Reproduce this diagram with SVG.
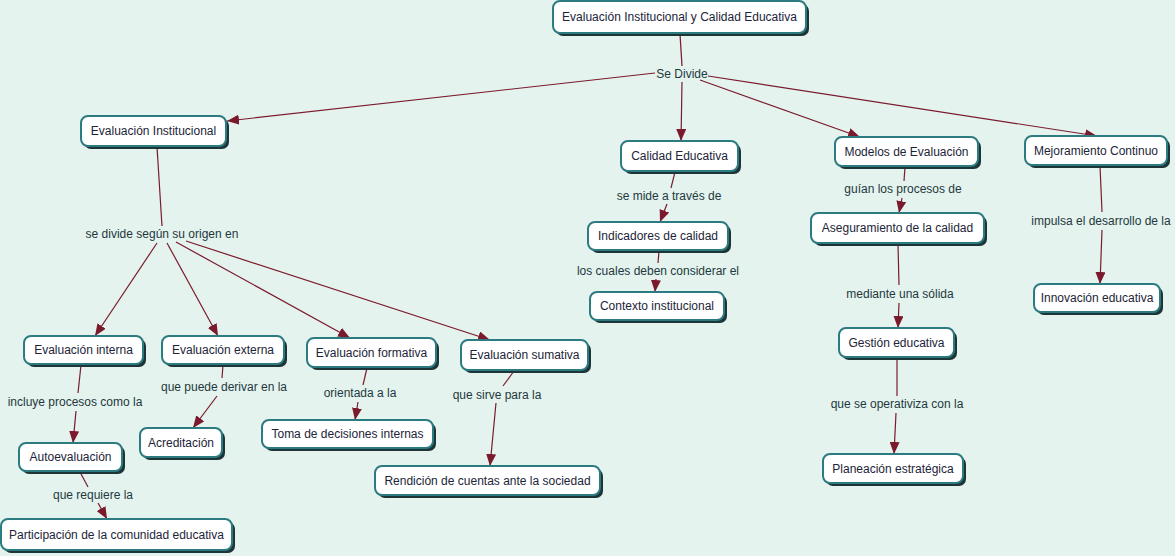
<svg xmlns="http://www.w3.org/2000/svg" width="1175" height="556" viewBox="0 0 1175 556">
<defs>
<marker id="arr" markerUnits="userSpaceOnUse" markerWidth="12" markerHeight="10" refX="12" refY="5" orient="auto">
<path d="M0,0 L12,5 L0,10 z" fill="#7a1a2c"/>
</marker>
<style>
.sh{fill:#1d3537}
.bx{fill:#ffffff;stroke:#2b7b80;stroke-width:2}
.t{font-family:"Liberation Sans",Arial,sans-serif;font-size:12px;fill:#1c2438;text-anchor:middle;dominant-baseline:central}
.lb{font-family:"Liberation Sans",Arial,sans-serif;font-size:12px;fill:#23383c;text-anchor:middle;dominant-baseline:central}
.c{stroke:#7a1a2c;stroke-width:1.2;fill:none}
.a{stroke:#7a1a2c;stroke-width:1.2;fill:none;marker-end:url(#arr)}
</style>
</defs>
<rect x="0" y="0" width="1175" height="556" fill="#e5f3ef"/>

<g id="connectors">
<line class="c" x1="680" y1="34" x2="682" y2="66"/>
<line class="a" x1="655" y1="73" x2="227" y2="121"/>
<line class="a" x1="682" y1="82" x2="681" y2="141"/>
<line class="a" x1="700" y1="80" x2="860" y2="137"/>
<line class="a" x1="708" y1="76" x2="1097" y2="136"/>
<line class="c" x1="157" y1="147" x2="162" y2="226"/>
<line class="a" x1="157" y1="243" x2="95" y2="336"/>
<line class="a" x1="167" y1="243" x2="218" y2="336"/>
<line class="a" x1="176" y1="242" x2="350" y2="338"/>
<line class="a" x1="186" y1="241" x2="490" y2="340"/>
<line class="c" x1="81" y1="365" x2="78" y2="393"/>
<line class="a" x1="76" y1="411" x2="73" y2="443"/>
<line class="c" x1="80" y1="472" x2="88" y2="487"/>
<line class="a" x1="98" y1="503" x2="107" y2="519"/>
<line class="c" x1="223" y1="365" x2="222" y2="378"/>
<line class="a" x1="217" y1="396" x2="193" y2="428"/>
<line class="c" x1="367" y1="368" x2="363" y2="385"/>
<line class="a" x1="358" y1="402" x2="355" y2="420"/>
<line class="c" x1="514" y1="371" x2="503" y2="386"/>
<line class="a" x1="496" y1="403" x2="490" y2="466"/>
<line class="c" x1="675" y1="172" x2="671" y2="188"/>
<line class="a" x1="667" y1="204" x2="660" y2="222"/>
<line class="c" x1="659" y1="251" x2="658" y2="263"/>
<line class="a" x1="656" y1="279" x2="655" y2="292"/>
<line class="c" x1="905" y1="167" x2="904" y2="181"/>
<line class="a" x1="902" y1="198" x2="899" y2="213"/>
<line class="c" x1="898" y1="244" x2="899" y2="285"/>
<line class="a" x1="899" y1="303" x2="898" y2="328"/>
<line class="c" x1="897" y1="358" x2="897" y2="396"/>
<line class="a" x1="896" y1="413" x2="894" y2="454"/>
<line class="c" x1="1100" y1="166" x2="1102" y2="212"/>
<line class="a" x1="1102" y1="230" x2="1100" y2="284"/>
</g>

<g id="labels">
<text class="lb" x="682" y="74">Se Divide</text>
<text class="lb" x="162" y="234">se divide según su origen en</text>
<text class="lb" x="75" y="402">incluye procesos como la</text>
<text class="lb" x="93" y="495">que requiere la</text>
<text class="lb" x="224" y="387">que puede derivar en la</text>
<text class="lb" x="360" y="393">orientada a la</text>
<text class="lb" x="497" y="395">que sirve para la</text>
<text class="lb" x="669" y="196">se mide a través de</text>
<text class="lb" x="658" y="271">los cuales deben considerar el</text>
<text class="lb" x="903" y="189">guían los procesos de</text>
<text class="lb" x="900" y="294">mediante una sólida</text>
<text class="lb" x="897" y="404">que se operativiza con la</text>
<text class="lb" x="1101" y="221">impulsa el desarrollo de la</text>
</g>

<g id="n-root"><rect class="sh" x="556" y="4" width="253" height="32" rx="7"/><rect class="bx" x="553" y="1" width="253" height="32" rx="7"/><text class="t" x="679.5" y="17">Evaluación Institucional y Calidad Educativa</text></g>
<g id="n-evinst"><rect class="sh" x="84" y="119" width="145" height="30" rx="7"/><rect class="bx" x="81" y="116" width="145" height="30" rx="7"/><text class="t" x="153.5" y="131">Evaluación Institucional</text></g>
<g id="n-calidad"><rect class="sh" x="624" y="144" width="117" height="30" rx="7"/><rect class="bx" x="621" y="141" width="117" height="30" rx="7"/><text class="t" x="679.5" y="156">Calidad Educativa</text></g>
<g id="n-modelos"><rect class="sh" x="838" y="140" width="143" height="29" rx="7"/><rect class="bx" x="835" y="137" width="143" height="29" rx="7"/><text class="t" x="906.5" y="151.5">Modelos de Evaluación</text></g>
<g id="n-mejora"><rect class="sh" x="1028" y="139" width="142" height="29" rx="7"/><rect class="bx" x="1025" y="136" width="142" height="29" rx="7"/><text class="t" x="1096" y="150.5">Mejoramiento Continuo</text></g>
<g id="n-indic"><rect class="sh" x="591" y="225" width="140" height="28" rx="7"/><rect class="bx" x="588" y="222" width="140" height="28" rx="7"/><text class="t" x="658" y="236">Indicadores de calidad</text></g>
<g id="n-contexto"><rect class="sh" x="593" y="295" width="134" height="28" rx="7"/><rect class="bx" x="590" y="292" width="134" height="28" rx="7"/><text class="t" x="657" y="306">Contexto institucional</text></g>
<g id="n-asegura"><rect class="sh" x="814" y="216" width="173" height="30" rx="7"/><rect class="bx" x="811" y="213" width="173" height="30" rx="7"/><text class="t" x="897.5" y="228">Aseguramiento de la calidad</text></g>
<g id="n-gestion"><rect class="sh" x="842" y="331" width="115" height="29" rx="7"/><rect class="bx" x="839" y="328" width="115" height="29" rx="7"/><text class="t" x="896.5" y="342.5">Gestión educativa</text></g>
<g id="n-planea"><rect class="sh" x="826" y="457" width="140" height="29" rx="7"/><rect class="bx" x="823" y="454" width="140" height="29" rx="7"/><text class="t" x="893" y="468.5">Planeación estratégica</text></g>
<g id="n-innova"><rect class="sh" x="1037" y="287" width="126" height="28" rx="7"/><rect class="bx" x="1034" y="284" width="126" height="28" rx="7"/><text class="t" x="1097" y="298">Innovación educativa</text></g>
<g id="n-interna"><rect class="sh" x="27" y="339" width="119" height="28" rx="7"/><rect class="bx" x="24" y="336" width="119" height="28" rx="7"/><text class="t" x="83.5" y="350">Evaluación interna</text></g>
<g id="n-externa"><rect class="sh" x="165" y="339" width="122" height="28" rx="7"/><rect class="bx" x="162" y="336" width="122" height="28" rx="7"/><text class="t" x="223" y="350">Evaluación externa</text></g>
<g id="n-formativa"><rect class="sh" x="310" y="341" width="129" height="29" rx="7"/><rect class="bx" x="307" y="338" width="129" height="29" rx="7"/><text class="t" x="371.5" y="352.5">Evaluación formativa</text></g>
<g id="n-sumativa"><rect class="sh" x="464" y="343" width="127" height="30" rx="7"/><rect class="bx" x="461" y="340" width="127" height="30" rx="7"/><text class="t" x="524.5" y="355">Evaluación sumativa</text></g>
<g id="n-autoev"><rect class="sh" x="22" y="446" width="103" height="28" rx="7"/><rect class="bx" x="19" y="443" width="103" height="28" rx="7"/><text class="t" x="70.5" y="457">Autoevaluación</text></g>
<g id="n-acred"><rect class="sh" x="143" y="431" width="82" height="29" rx="7"/><rect class="bx" x="140" y="428" width="82" height="29" rx="7"/><text class="t" x="181" y="442.5">Acreditación</text></g>
<g id="n-toma"><rect class="sh" x="265" y="423" width="171" height="28" rx="7"/><rect class="bx" x="262" y="420" width="171" height="28" rx="7"/><text class="t" x="347.5" y="434">Toma de decisiones internas</text></g>
<g id="n-rendicion"><rect class="sh" x="378" y="469" width="225" height="29" rx="7"/><rect class="bx" x="375" y="466" width="225" height="29" rx="7"/><text class="t" x="487.5" y="480.5">Rendición de cuentas ante la sociedad</text></g>
<g id="n-particip"><rect class="sh" x="4" y="522" width="231" height="31" rx="7"/><rect class="bx" x="1" y="519" width="231" height="31" rx="7"/><text class="t" x="116.5" y="534.5">Participación de la comunidad educativa</text></g>
</svg>
